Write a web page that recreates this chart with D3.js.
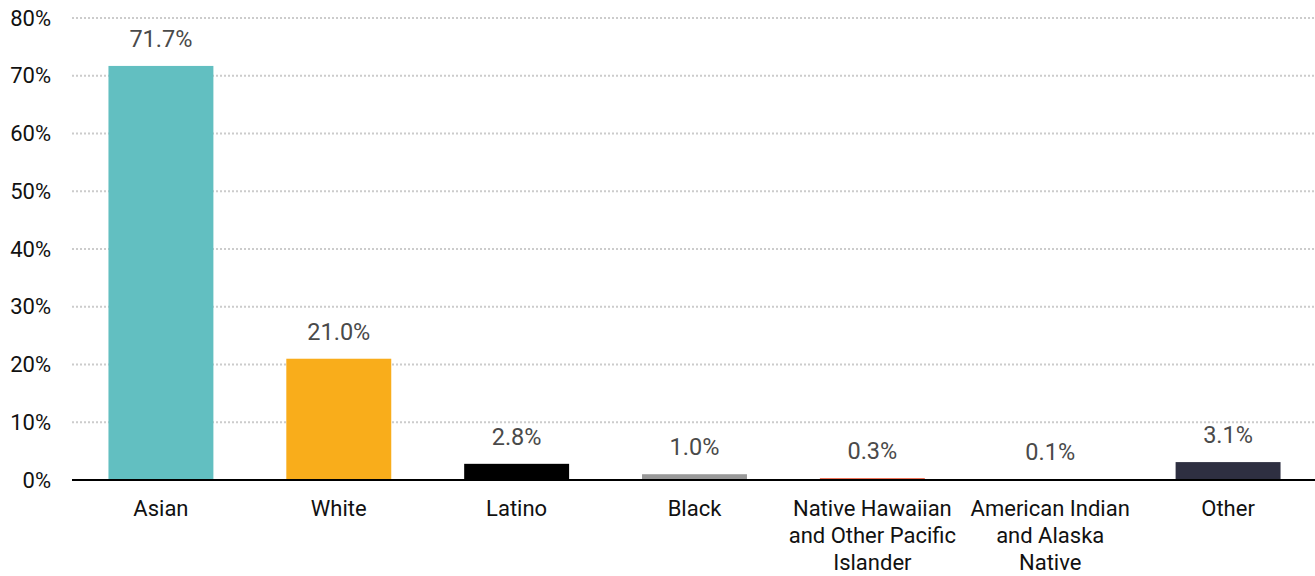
<!DOCTYPE html>
<html>
<head>
<meta charset="utf-8">
<script src="https://cdn.jsdelivr.net/npm/d3@7"></script>
<style>
  body { margin: 0; background: #fff; }
  svg { display: block; font-family: Roboto, "Noto Sans", sans-serif; }
</style>
</head>
<body>
<svg id="chart" width="1315" height="576"></svg>
<script>
var categories = [
    ["Asian"],
    ["White"],
    ["Latino"],
    ["Black"],
    ["Native Hawaiian", "and Other Pacific", "Islander"],
    ["American Indian", "and Alaska", "Native"],
    ["Other"]
];
var values = [71.7, 21.0, 2.8, 1.0, 0.3, 0.1, 3.1];
var colors = ["#62bfc1", "#f9ad1b", "#000000", "#999999", "#e8401f", "#7a3b8f", "#2e2f41"];
var yTicks = [0, 10, 20, 30, 40, 50, 60, 70, 80];

var svg = d3.select("#chart"),
    margin = { top: 18, right: -2, bottom: 96, left: 72 },
    width = +svg.attr("width"),
    height = +svg.attr("height");

var x = d3.scaleBand()
    .domain(d3.range(values.length))
    .range([margin.left, width - margin.right])
    .paddingInner(0.41)
    .paddingOuter(0.205);

var y = d3.scaleLinear()
    .domain([0, 80])
    .range([height - margin.bottom, margin.top]);

// gridlines
svg.append("g")
    .selectAll("line")
    .data(yTicks.filter(function (d) { return d > 0; }))
    .enter()
    .append("line")
    .attr("x1", margin.left)
    .attr("x2", width)
    .attr("y1", function (d) { return y(d); })
    .attr("y2", function (d) { return y(d); })
    .style("stroke", "#cccccc")
    .style("stroke-width", 2)
    .style("stroke-dasharray", "2,2");

// y axis labels
svg.append("g")
    .selectAll("text")
    .data(yTicks)
    .enter()
    .append("text")
    .attr("x", 51)
    .attr("y", function (d) { return y(d); })
    .attr("dy", "0.35em")
    .attr("text-anchor", "end")
    .style("font-size", "22px")
    .style("fill", "#111")
    .text(function (d) { return d + "%"; });

// bars
svg.append("g")
    .selectAll("rect")
    .data(values)
    .enter()
    .append("rect")
    .attr("x", function (d, i) { return x(i); })
    .attr("width", x.bandwidth())
    .attr("y", function (d) { return y(d); })
    .attr("height", function (d) { return y(0) - y(d); })
    .style("fill", function (d, i) { return colors[i]; });

// value labels
svg.append("g")
    .selectAll("text")
    .data(values)
    .enter()
    .append("text")
    .attr("x", function (d, i) { return x(i) + x.bandwidth() / 2; })
    .attr("y", function (d) { return y(d) - 19; })
    .attr("text-anchor", "middle")
    .style("font-size", "23.5px")
    .style("fill", "#4a4a4a")
    .text(function (d) { return d.toFixed(1) + "%"; });

// baseline
svg.append("line")
    .attr("x1", margin.left)
    .attr("x2", width)
    .attr("y1", y(0))
    .attr("y2", y(0))
    .style("stroke", "#000")
    .style("stroke-width", 2);

// category labels
var cat = svg.append("g")
    .selectAll("text")
    .data(categories)
    .enter()
    .append("text")
    .attr("x", function (d, i) { return x(i) + x.bandwidth() / 2; })
    .attr("y", y(0) + 36)
    .attr("text-anchor", "middle")
    .style("font-size", "22px")
    .style("fill", "#111");

cat.selectAll("tspan")
    .data(function (d) { return d; })
    .enter()
    .append("tspan")
    .attr("x", function () { return d3.select(this.parentNode).attr("x"); })
    .attr("dy", function (d, i) { return i === 0 ? 0 : 27; })
    .text(function (d) { return d; });
</script>
</body>
</html>
